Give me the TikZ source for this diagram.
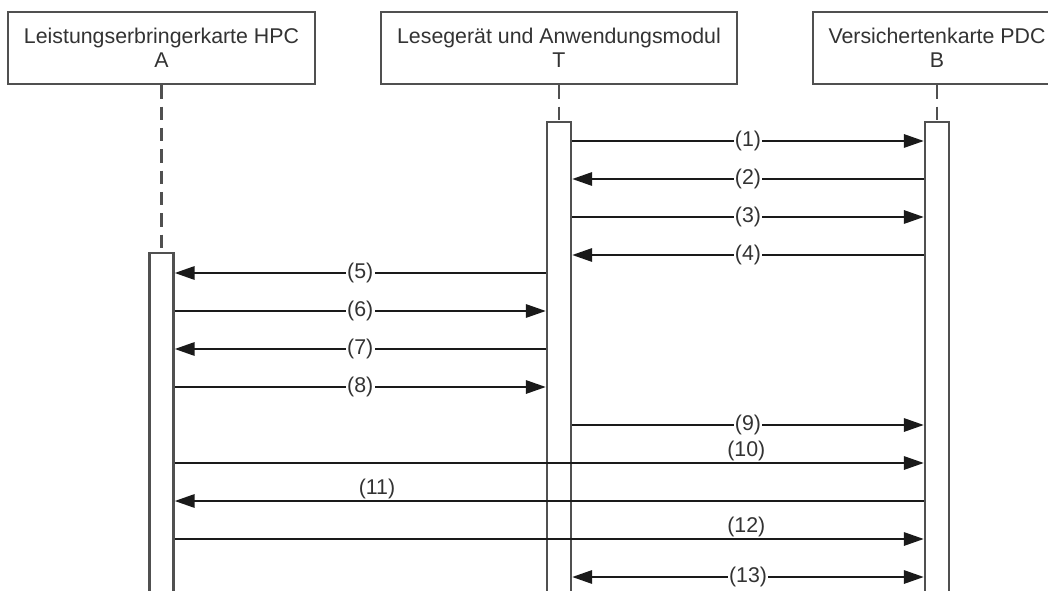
\documentclass[tikz,border=0pt]{standalone}
\usepackage{fontspec}
\setmainfont{Liberation Sans}
\usetikzlibrary{arrows.meta}
\definecolor{lc}{HTML}{1A1A1A}
\definecolor{bc}{HTML}{505050}
\definecolor{tc}{HTML}{333333}
\begin{document}
\begin{tikzpicture}[x=0.75pt,y=-0.75pt,
  txt/.style={font=\fontsize{16}{18}\selectfont, text=tc},
  header/.style={txt, draw=bc, line width=1.9pt, fill=white, align=center,
    minimum height=54pt, inner sep=0pt},
  bar/.style={draw=bc, line width=1.8pt, fill=white, minimum width=18pt, inner sep=0pt},
  lifeline/.style={draw=bc, line width=1.8pt, dash pattern=on 10pt off 6pt},
  msg/.style={draw=lc, line width=1.7pt, -{Triangle[length=15pt,width=10pt]}},
  dmsg/.style={draw=lc, line width=1.7pt, {Triangle[length=15pt,width=10pt]}-{Triangle[length=15pt,width=10pt]}},
  lab/.style={txt, fill=white, inner xsep=1pt, inner ysep=0pt},
  labup/.style={txt, above, inner sep=0.5pt}
]
\useasboundingbox (0,0) rectangle (1048,591);
\fill[white] (0,0) rectangle (1048,591);
\clip (0,0) rectangle (1048,591);

% headers
\node[header, minimum width=230pt] (hA) at (161.5,48) {Leistungserbringerkarte HPC\\A};
\node[header, minimum width=267pt] (hT) at (559,48) {Lesegerät und Anwendungsmodul\\T};
\node[header, minimum width=186pt] (hB) at (937,48) {Versichertenkarte PDC\\B};

% activation bars
\node[bar, minimum height=260pt] (bA) at (161.5,426.5) {};
\node[bar, minimum height=358.5pt] (bT) at (559,361) {};
\node[bar, minimum height=358.5pt] (bB) at (937,361) {};

% lifelines
\draw[lifeline] (hA.south) -- (bA.north);
\draw[lifeline] (hT.south) -- (bT.north);
\draw[lifeline] (hB.south) -- (bB.north);

% redraw bars on top of lifelines
\node[bar, minimum height=260pt] at (bA) {};
\node[bar, minimum height=358.5pt] at (bT) {};
\node[bar, minimum height=358.5pt] at (bB) {};

% message rows
\coordinate (r1) at (0,141);
\coordinate (r2) at (0,179);
\coordinate (r3) at (0,217);
\coordinate (r4) at (0,255);
\coordinate (r5) at (0,273);
\coordinate (r6) at (0,311);
\coordinate (r7) at (0,349);
\coordinate (r8) at (0,387);
\coordinate (r9) at (0,425);
\coordinate (r10) at (0,463);
\coordinate (r11) at (0,501);
\coordinate (r12) at (0,539);
\coordinate (r13) at (0,577);

\draw[msg] (bT.east |- r1) -- node[lab] {(1)} (bB.west |- r1);
\draw[msg] (bB.west |- r2) -- node[lab] {(2)} (bT.east |- r2);
\draw[msg] (bT.east |- r3) -- node[lab] {(3)} (bB.west |- r3);
\draw[msg] (bB.west |- r4) -- node[lab] {(4)} (bT.east |- r4);
\draw[msg] (bT.west |- r5) -- node[lab] {(5)} (bA.east |- r5);
\draw[msg] (bA.east |- r6) -- node[lab] {(6)} (bT.west |- r6);
\draw[msg] (bT.west |- r7) -- node[lab] {(7)} (bA.east |- r7);
\draw[msg] (bA.east |- r8) -- node[lab] {(8)} (bT.west |- r8);
\draw[msg] (bT.east |- r9) -- node[lab] {(9)} (bB.west |- r9);
\draw[msg] (bA.east |- r10) -- node[labup, pos=0.763] {(10)} (bB.west |- r10);
\draw[msg] (bB.west |- r11) -- node[labup, pos=0.73] {(11)} (bA.east |- r11);
\draw[msg] (bA.east |- r12) -- node[labup, pos=0.763] {(12)} (bB.west |- r12);
\draw[dmsg] (bT.east |- r13) -- node[lab] {(13)} (bB.west |- r13);
\end{tikzpicture}
\end{document}
